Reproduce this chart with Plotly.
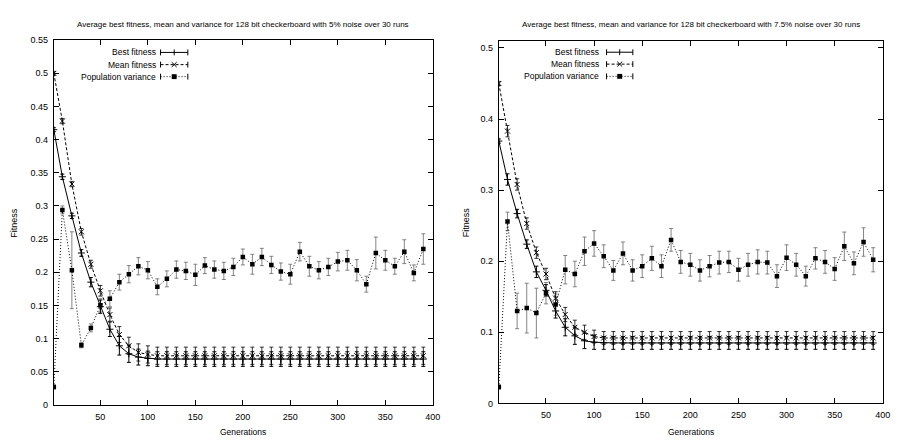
import plotly.graph_objects as go

W, H = 901, 445

generations = [1, 10, 20, 30, 40, 50, 60, 70, 80, 90, 100, 110, 120, 130, 140, 150, 160, 170, 180, 190,
               200, 210, 220, 230, 240, 250, 260, 270, 280, 290, 300, 310, 320, 330, 340, 350, 360, 370, 380, 390]

# ---- left chart: 5% noise ----
best5 = [0.415, 0.344, 0.285, 0.229, 0.185, 0.148, 0.114, 0.089, 0.077, 0.072, 0.070] + [0.069] * 29
best5_err = [0.003, 0.004, 0.004, 0.005, 0.007, 0.010, 0.011, 0.014, 0.013, 0.012, 0.011] + [0.011] * 29
mean5 = [0.500, 0.428, 0.333, 0.261, 0.212, 0.172, 0.136, 0.106, 0.089, 0.079, 0.076] + [0.074] * 29
mean5_err = [0.003, 0.004, 0.004, 0.005, 0.006, 0.008, 0.010, 0.012, 0.013, 0.013, 0.013] + [0.013] * 29
var5 = [0.027, 0.294, 0.203, 0.090, 0.116, 0.150, 0.160, 0.185, 0.197, 0.209, 0.203, 0.178, 0.190, 0.204,
        0.202, 0.196, 0.210, 0.204, 0.202, 0.208, 0.223, 0.212, 0.223, 0.211, 0.201, 0.197, 0.231, 0.209,
        0.203, 0.208, 0.216, 0.218, 0.203, 0.182, 0.229, 0.218, 0.209, 0.231, 0.199, 0.235]
var5_err = [0.003, 0.006, 0.058, 0.004, 0.006, 0.010, 0.012, 0.012, 0.013, 0.013, 0.013, 0.012, 0.012, 0.013,
            0.013, 0.016, 0.012, 0.013, 0.013, 0.013, 0.012, 0.015, 0.013, 0.013, 0.013, 0.015, 0.014, 0.015,
            0.013, 0.013, 0.014, 0.015, 0.016, 0.012, 0.024, 0.015, 0.012, 0.018, 0.012, 0.023]

# ---- right chart: 7.5% noise ----
best75 = [0.369, 0.315, 0.267, 0.224, 0.185, 0.159, 0.130, 0.107, 0.095, 0.088, 0.086] + [0.085] * 29
best75_err = [0.003, 0.008, 0.006, 0.006, 0.008, 0.008, 0.010, 0.012, 0.012, 0.011, 0.010] + [0.009] * 29
mean75 = [0.450, 0.383, 0.308, 0.253, 0.212, 0.182, 0.148, 0.125, 0.107, 0.100, 0.094] + [0.092] * 29
mean75_err = [0.003, 0.008, 0.008, 0.008, 0.008, 0.008, 0.009, 0.010, 0.010, 0.010, 0.009] + [0.009] * 29
var75 = [0.023, 0.256, 0.130, 0.134, 0.127, 0.155, 0.139, 0.188, 0.182, 0.214, 0.225, 0.207, 0.187, 0.211,
         0.187, 0.193, 0.204, 0.193, 0.230, 0.199, 0.195, 0.187, 0.193, 0.198, 0.199, 0.188, 0.195, 0.199,
         0.198, 0.179, 0.205, 0.195, 0.179, 0.204, 0.199, 0.189, 0.221, 0.197, 0.227, 0.202]
var75_err = [0.003, 0.013, 0.025, 0.035, 0.035, 0.015, 0.015, 0.020, 0.018, 0.020, 0.018, 0.016, 0.014, 0.016,
             0.015, 0.016, 0.017, 0.016, 0.016, 0.016, 0.016, 0.015, 0.015, 0.016, 0.015, 0.016, 0.016, 0.017,
             0.016, 0.016, 0.018, 0.016, 0.014, 0.015, 0.016, 0.016, 0.020, 0.016, 0.020, 0.017]

series_names = ["Best fitness", "Mean fitness", "Population variance"]
titles = ["Average best fitness, mean and variance for 128 bit checkerboard with 5% noise over 30 runs",
          "Average best fitness, mean and variance for 128 bit checkerboard with 7.5% noise over 30 runs"]
yticks5 = [0, 0.05, 0.1, 0.15, 0.2, 0.25, 0.3, 0.35, 0.4, 0.45, 0.5, 0.55]
yticks75 = [0, 0.1, 0.2, 0.3, 0.4, 0.5]
xticks = [50, 100, 150, 200, 250, 300, 350, 400]

FONT = "Liberation Sans, Arial, Helvetica, sans-serif"
BLACK = "#000000"

fig = go.Figure()

def add_set(best, berr, mean, merr, var, verr, xa, ya):
    fig.add_trace(go.Scatter(
        x=generations, y=var, xaxis=xa, yaxis=ya, mode="lines+markers", name=series_names[2],
        line=dict(color=BLACK, width=1, dash="1px,2px"),
        marker=dict(symbol="square", size=4.5, color=BLACK),
        error_y=dict(type="data", array=verr, color="#666666", thickness=0.8, width=2),
        showlegend=False))
    fig.add_trace(go.Scatter(
        x=generations, y=mean, xaxis=xa, yaxis=ya, mode="lines+markers", name=series_names[1],
        line=dict(color=BLACK, width=1, dash="3px,2px"),
        marker=dict(symbol="x-thin", size=5, color=BLACK, line=dict(color=BLACK, width=1)),
        error_y=dict(type="data", array=merr, color=BLACK, thickness=0.8, width=2),
        showlegend=False))
    fig.add_trace(go.Scatter(
        x=generations, y=best, xaxis=xa, yaxis=ya, mode="lines+markers", name=series_names[0],
        line=dict(color=BLACK, width=1),
        marker=dict(symbol="cross-thin", size=5, color=BLACK, line=dict(color=BLACK, width=1)),
        error_y=dict(type="data", array=berr, color=BLACK, thickness=1, width=2),
        showlegend=False))

add_set(best5, best5_err, mean5, mean5_err, var5, var5_err, "x", "y")
add_set(best75, best75_err, mean75, mean75_err, var75, var75_err, "x2", "y2")

def px(x):
    return x / W

def py(y):
    return 1 - y / H

L = (54.3, 436.7, 36.0, 409.0)
R = (503.3, 890.7, 36.7, 407.5)

axis_common = dict(showline=True, linecolor=BLACK, linewidth=1, mirror="ticks", ticks="inside",
                   ticklen=5, tickcolor=BLACK, tickwidth=1, showgrid=False, zeroline=False,
                   tickfont=dict(family=FONT, size=9, color=BLACK))

fig.update_layout(
    width=W, height=H, margin=dict(l=0, r=0, t=0, b=0),
    paper_bgcolor="white", plot_bgcolor="white",
    font=dict(family=FONT, size=9, color=BLACK),
    xaxis=dict(domain=[px(L[0]), px(L[1])], range=[1, 400], tickvals=xticks, anchor="y",
               ticklabelstandoff=3, **axis_common),
    yaxis=dict(domain=[py(L[3]), py(L[2])], range=[0, 0.55], tickvals=yticks5, anchor="x",
               ticklabelstandoff=3, **axis_common),
    xaxis2=dict(domain=[px(R[0]), px(R[1])], range=[1, 400], tickvals=xticks, anchor="y2",
                ticklabelstandoff=3, **axis_common),
    yaxis2=dict(domain=[py(R[3]), py(R[2])], range=[0, 0.51], tickvals=yticks75, anchor="x2",
                ticklabelstandoff=3, **axis_common),
)

annotations = []
shapes = []
for (box, title, ylab_off) in [(L, titles[0], 41), (R, titles[1], 33)]:
    cx = (box[0] + box[1]) / 2
    cy = (box[2] + box[3]) / 2
    annotations.append(dict(text=title, x=px(cx), y=py(20), xref="paper", yref="paper",
                            showarrow=False, xanchor="center", yanchor="middle",
                            font=dict(family=FONT, size=8, color=BLACK)))
    annotations.append(dict(text="Generations", x=px(cx), y=py(437), xref="paper", yref="paper",
                            showarrow=False, xanchor="center", yanchor="middle",
                            font=dict(family=FONT, size=8.5, color=BLACK)))
    annotations.append(dict(text="Fitness", x=px(box[0] - ylab_off), y=py(cy), xref="paper", yref="paper",
                            showarrow=False, xanchor="center", yanchor="middle", textangle=-90,
                            font=dict(family=FONT, size=9, color=BLACK)))

# legend (gnuplot-like: text, then sample with end caps)
legend_specs = [(L, 159.0, 162.0, 189.5, [48.5, 61.0, 73.3]),
                (R, 606.7, 612.0, 638.5, [48.3, 60.5, 73.0])]
dashes = ["solid", "3px,2px", "1px,2px"]
for box, tx, sx0, sx1, rows in legend_specs:
    for i, ry in enumerate(rows):
        annotations.append(dict(text=series_names[i], x=px(tx), y=py(ry), xref="paper", yref="paper",
                                showarrow=False, xanchor="right", yanchor="middle",
                                font=dict(family=FONT, size=8.5, color=BLACK)))
        shapes.append(dict(type="line", xref="paper", yref="paper", x0=px(sx0), x1=px(sx1),
                           y0=py(ry), y1=py(ry), line=dict(color=BLACK, width=1, dash=dashes[i])))
        for ex in (sx0, sx1):
            shapes.append(dict(type="line", xref="paper", yref="paper", x0=px(ex), x1=px(ex),
                               y0=py(ry - 3), y1=py(ry + 3), line=dict(color=BLACK, width=1)))
        mx = (sx0 + sx1) / 2
        if i == 0:
            shapes.append(dict(type="line", xref="paper", yref="paper", x0=px(mx), x1=px(mx),
                               y0=py(ry - 3), y1=py(ry + 3), line=dict(color=BLACK, width=1)))
        elif i == 1:
            shapes.append(dict(type="line", xref="paper", yref="paper", x0=px(mx - 2.5), x1=px(mx + 2.5),
                               y0=py(ry - 2.5), y1=py(ry + 2.5), line=dict(color=BLACK, width=1)))
            shapes.append(dict(type="line", xref="paper", yref="paper", x0=px(mx - 2.5), x1=px(mx + 2.5),
                               y0=py(ry + 2.5), y1=py(ry - 2.5), line=dict(color=BLACK, width=1)))
        else:
            shapes.append(dict(type="rect", xref="paper", yref="paper", x0=px(mx - 2.5), x1=px(mx + 2.5),
                               y0=py(ry - 2.5), y1=py(ry + 2.5), fillcolor=BLACK,
                               line=dict(color=BLACK, width=0)))

fig.update_layout(annotations=annotations, shapes=shapes)
fig.write_html("out.html", config={"displayModeBar": False},
               post_script="document.body.style.margin='0';document.body.style.overflow='hidden';")
